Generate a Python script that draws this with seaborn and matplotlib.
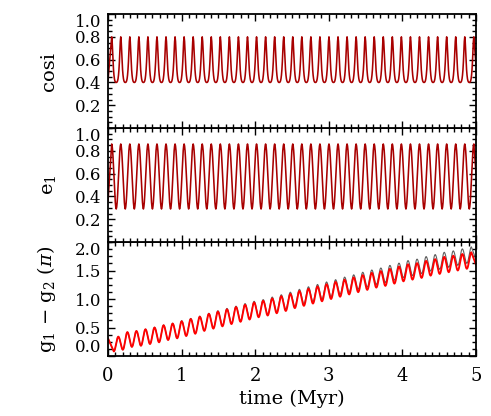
import numpy as np
import pandas as pd
import matplotlib
matplotlib.use("Agg")
import matplotlib.pyplot as plt
from matplotlib.ticker import MultipleLocator
import seaborn as sns

# ---------------- data ----------------
# oscillation timing (Myr)
first_peak_top = 0.05      # first maximum of cosi and e1
first_peak_bot = 0.14      # first maximum of g1-g2
period = 0.123             # oscillation period

# shape of a half cycle: phase after a maximum
# (fraction of a period) and level between trough (0) and peak (1)
half_phase = [0.0, 0.05, 0.10, 0.15, 0.20, 0.25, 0.30, 0.35, 0.40, 0.45, 0.50]
cosi_shape = [1.0, 0.90, 0.68, 0.45, 0.28, 0.16, 0.08, 0.035, 0.012, 0.002, 0.0]
wave_shape = [1.0, 0.97, 0.90, 0.79, 0.65, 0.50, 0.35, 0.21, 0.10, 0.03, 0.0]

# cosi
cosi_start = 0.42
cosi_peaks = [0.80, 0.80, 0.80, 0.80, 0.80, 0.80, 0.80, 0.80, 0.80, 0.80,
              0.80, 0.80, 0.80, 0.80, 0.80, 0.80, 0.80, 0.80, 0.80, 0.80,
              0.80, 0.80, 0.80, 0.80, 0.80, 0.80, 0.80, 0.80, 0.80, 0.80,
              0.80, 0.80, 0.80, 0.80, 0.80, 0.80, 0.80, 0.80, 0.80, 0.80,
              0.80]
cosi_troughs = [0.40, 0.40, 0.40, 0.40, 0.40, 0.40, 0.40, 0.40, 0.40, 0.40,
                0.40, 0.40, 0.40, 0.40, 0.40, 0.40, 0.40, 0.40, 0.40, 0.40,
                0.40, 0.40, 0.40, 0.40, 0.40, 0.40, 0.40, 0.40, 0.40, 0.40,
                0.40, 0.40, 0.40, 0.40, 0.40, 0.40, 0.40, 0.40, 0.40, 0.40]
cosi_end = 0.55

# e1
e1_start = 0.36
e1_peaks = [0.86, 0.86, 0.86, 0.86, 0.86, 0.86, 0.86, 0.86, 0.86, 0.86,
            0.86, 0.86, 0.86, 0.86, 0.86, 0.86, 0.86, 0.86, 0.86, 0.86,
            0.86, 0.86, 0.86, 0.86, 0.86, 0.86, 0.86, 0.86, 0.86, 0.86,
            0.86, 0.86, 0.86, 0.86, 0.86, 0.86, 0.86, 0.86, 0.86, 0.86,
            0.86]
e1_troughs = [0.29, 0.29, 0.29, 0.29, 0.29, 0.29, 0.29, 0.29, 0.29, 0.29,
              0.29, 0.29, 0.29, 0.29, 0.29, 0.29, 0.29, 0.29, 0.29, 0.29,
              0.29, 0.29, 0.29, 0.29, 0.29, 0.29, 0.29, 0.29, 0.29, 0.29,
              0.29, 0.29, 0.29, 0.29, 0.29, 0.29, 0.29, 0.29, 0.29, 0.29]
e1_end = 0.60

# g1 - g2 (units of pi), red curve
dg_start = 0.31
dg_troughs = [0.08, 0.11, 0.16, 0.18, 0.21, 0.24, 0.28, 0.31, 0.35, 0.39,
              0.44, 0.48, 0.52, 0.56, 0.60, 0.64, 0.68, 0.71, 0.75, 0.79,
              0.84, 0.88, 0.92, 0.96, 1.00, 1.04, 1.08, 1.12, 1.16, 1.20,
              1.23, 1.27, 1.31, 1.34, 1.37, 1.41, 1.44, 1.47, 1.50, 1.53]
dg_peaks = [0.34, 0.42, 0.44, 0.47, 0.50, 0.54, 0.57, 0.61, 0.65, 0.69,
            0.74, 0.78, 0.82, 0.86, 0.90, 0.94, 0.97, 1.01, 1.05, 1.09,
            1.14, 1.18, 1.22, 1.26, 1.30, 1.34, 1.38, 1.42, 1.46, 1.49,
            1.53, 1.57, 1.61, 1.63, 1.67, 1.70, 1.74, 1.76, 1.79, 1.82]
dg_end = 1.60

# g1 - g2 (units of pi), thin grey comparison curve
dg2_start = 0.31
dg2_troughs = [0.08, 0.11, 0.16, 0.18, 0.215, 0.245, 0.285, 0.32, 0.36, 0.40,
               0.45, 0.495, 0.535, 0.575, 0.62, 0.66, 0.70, 0.735, 0.775, 0.82,
               0.87, 0.915, 0.955, 1.00, 1.04, 1.085, 1.125, 1.17, 1.21, 1.255,
               1.29, 1.33, 1.375, 1.41, 1.445, 1.49, 1.52, 1.555, 1.59, 1.625]
dg2_peaks = [0.34, 0.42, 0.44, 0.47, 0.505, 0.545, 0.575, 0.62, 0.66, 0.70,
             0.75, 0.795, 0.835, 0.875, 0.92, 0.96, 0.99, 1.035, 1.075, 1.12,
             1.17, 1.215, 1.255, 1.30, 1.34, 1.385, 1.425, 1.47, 1.51, 1.545,
             1.59, 1.63, 1.675, 1.70, 1.745, 1.78, 1.82, 1.845, 1.88, 1.915]
dg2_end = 1.69

t_end = 5.0
x_ticks = [0, 1, 2, 3, 4, 5]
x_label = "time (Myr)"
y_labels = ["cosi", r"e$_1$", r"g$_1$ $-$ g$_2$ ($\pi$)"]


def build(start, extrema, end, shape):
    """extrema: list of (time, value, is_peak). Joins them with the read
    half-cycle shape; start/end joined directly."""
    t = [0.0]
    v = [start]
    for i, (te, ve, pk) in enumerate(extrema):
        if i == 0:
            t.append(te)
            v.append(ve)
            continue
        tp, vp, ppk = extrema[i - 1]
        hi, lo = (vp, ve) if ppk else (ve, vp)
        if ppk:      # falling from a peak
            for ph, lev in zip(half_phase[1:], shape[1:]):
                t.append(tp + ph * period)
                v.append(lo + (hi - lo) * lev)
        else:        # rising to a peak (mirror of the falling half)
            for ph, lev in zip(half_phase[::-1][1:], shape[::-1][1:]):
                t.append(te - ph * period)
                v.append(lo + (hi - lo) * lev)
    t.append(t_end)
    v.append(end)
    return pd.DataFrame({"t": t, "v": v})


def peak_first(peaks, troughs, tp):
    ext = []
    for k, p in enumerate(peaks):
        ext.append((tp + k * period, p, True))
        if k < len(troughs):
            ext.append((tp + (k + 0.5) * period, troughs[k], False))
    return ext


def trough_first(troughs, peaks, tp):
    ext = []
    for k, p in enumerate(peaks):
        ext.append((tp + (k - 0.5) * period, troughs[k], False))
        ext.append((tp + k * period, p, True))
    return ext


df_cosi = build(cosi_start, peak_first(cosi_peaks, cosi_troughs, first_peak_top),
                cosi_end, cosi_shape)
df_e1 = build(e1_start, peak_first(e1_peaks, e1_troughs, first_peak_top),
              e1_end, wave_shape)
df_dg = build(dg_start, trough_first(dg_troughs, dg_peaks, first_peak_bot),
              dg_end, wave_shape)
df_dg2 = build(dg2_start, trough_first(dg2_troughs, dg2_peaks, first_peak_bot),
               dg2_end, wave_shape)

# ---------------- style ----------------
sns.set_theme(style="ticks")
plt.rcParams["font.family"] = ["DejaVu Serif"]
plt.rcParams["mathtext.fontset"] = "dejavuserif"
plt.rcParams["axes.linewidth"] = 1.3

fig = plt.figure(figsize=(4.91, 4.16), dpi=100)
L, R = 0.220, 0.9695
H = 0.274
b0 = 0.1442
ax3 = fig.add_axes([L, b0, R - L, H])
ax2 = fig.add_axes([L, b0 + H, R - L, H], sharex=ax3)
ax1 = fig.add_axes([L, b0 + 2 * H, R - L, H], sharex=ax3)

dark_red = "#A80000"
sns.lineplot(data=df_cosi, x="t", y="v", ax=ax1, color=dark_red, lw=1.15,
             sort=False, estimator=None)
sns.lineplot(data=df_e1, x="t", y="v", ax=ax2, color=dark_red, lw=1.15,
             sort=False, estimator=None)
sns.lineplot(data=df_dg2, x="t", y="v", ax=ax3, color="#606060", lw=0.8,
             sort=False, estimator=None)
sns.lineplot(data=df_dg, x="t", y="v", ax=ax3, color="#FF0000", lw=1.35,
             sort=False, estimator=None)

for ax in (ax1, ax2, ax3):
    ax.set_xlim(0, 5)
    ax.xaxis.set_major_locator(MultipleLocator(1))
    ax.xaxis.set_minor_locator(MultipleLocator(0.1))
    ax.tick_params(which="both", direction="in", top=True, right=True,
                   color="black", width=1.0)
    ax.tick_params(which="major", length=5)
    ax.tick_params(which="minor", length=2.6)
    ax.tick_params(axis="y", labelsize=12, pad=5, colors="black")
    ax.set_xlabel("")
    for s in ax.spines.values():
        s.set_color("black")

for ax in (ax1, ax2):
    ax.set_ylim(0, 1.0)
    ax.set_yticks([0.2, 0.4, 0.6, 0.8, 1.0])
    ax.set_yticklabels(["0.2", "0.4", "0.6", "0.8", "1.0"])
    ax.yaxis.set_minor_locator(MultipleLocator(0.05))
    ax.tick_params(axis="x", labelbottom=False)
    ax.get_yticklabels()[-1].set_verticalalignment("top")

ax3.set_ylim(0, 2.0)
ax3.set_yticks([0.0, 0.5, 1.0, 1.5, 2.0])
ax3.set_yticklabels(["0.0", "0.5", "1.0", "1.5", "2.0"])
ax3.yaxis.set_minor_locator(MultipleLocator(0.125))
ax3.get_yticklabels()[0].set_verticalalignment("bottom")
ax3.get_yticklabels()[-1].set_verticalalignment("top")
ax3.set_xticks(x_ticks)
ax3.set_xticklabels([str(v) for v in x_ticks])
ax3.tick_params(axis="x", labelsize=13, pad=8, colors="black")
ax3.set_xlabel(x_label, fontsize=14, color="black", labelpad=3)

for ax, lab in zip((ax1, ax2, ax3), y_labels):
    ax.set_ylabel(lab, fontsize=14, color="black")
    ax.yaxis.set_label_coords(-0.135, 0.5)

fig.savefig("out.png", dpi=100, facecolor="white")
